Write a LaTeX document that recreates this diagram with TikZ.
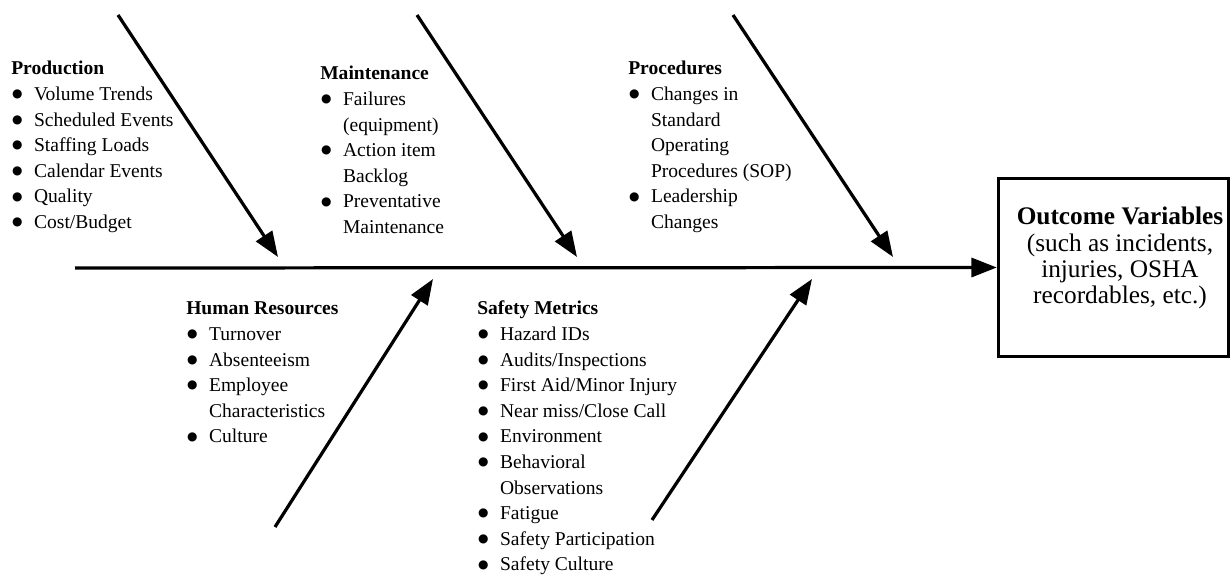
\documentclass[tikz,border=0pt]{standalone}
\usepackage{fontspec}
\setmainfont{Liberation Serif}
\newfontfamily\dotfont{DejaVu Sans}
\usetikzlibrary{arrows.meta}
\newcommand{\itm}{\makebox[0.57cm][l]{\hspace{0.02cm}\raisebox{2pt}{\dotfont\fontsize{8.5}{9}\selectfont ●}}}
\newcommand{\cnt}{\hspace*{0.57cm}}
\begin{document}
\begin{tikzpicture}[x=0.025cm,y=-0.025cm,
  bone/.style={line width=2.3pt,-{Triangle[length=18pt,width=13.5pt]}},
  cause/.style={anchor=base west,inner sep=0pt,font=\fontsize{13.9}{18.2}\selectfont},
  outbox/.style={draw,line width=2.4pt,minimum width=5.75cm,minimum height=4.45cm}]
\useasboundingbox (0,0) rectangle (1232,576);
\node [outbox] (out) at (1113.5,267.5) {};
\node [font=\fontsize{18}{18.6}\selectfont,align=center] (outtxt) at (1120,258)
  {\textbf{Outcome Variables}\\(such as incidents,\\injuries, OSHA\\recordables, etc.)};
\coordinate (tail) at (75,268);
\draw [bone] (tail) -- (out.west);
\coordinate (p1) at (118,15); \coordinate (p2) at (278,257);
\coordinate (m1) at (417,15); \coordinate (m2) at (577,257);
\coordinate (r1) at (733,15); \coordinate (r2) at (893,257);
\coordinate (h1) at (275,527); \coordinate (h2) at (433,279);
\coordinate (s1) at (652,520); \coordinate (s2) at (812,279);
\draw [bone] (p1) -- (p2); \draw [bone] (m1) -- (m2); \draw [bone] (r1) -- (r2);
\draw [bone] (h1) -- (h2); \draw [bone] (s1) -- (s2);
\node [cause] (prod) at (11,75) {\begin{tabular}[t]{@{}l@{}}\textbf{Production}\\
  \itm Volume Trends\\ \itm Scheduled Events\\ \itm Staffing Loads\\
  \itm Calendar Events\\ \itm Quality\\ \itm Cost/Budget\end{tabular}};
\node [cause] (maint) at (320,80) {\begin{tabular}[t]{@{}l@{}}\textbf{Maintenance}\\
  \itm Failures\\ \cnt(equipment)\\ \itm Action item\\ \cnt Backlog\\
  \itm Preventative\\ \cnt Maintenance\end{tabular}};
\node [cause] (proc) at (628,75) {\begin{tabular}[t]{@{}l@{}}\textbf{Procedures}\\
  \itm Changes in\\ \cnt Standard\\ \cnt Operating\\ \cnt Procedures (SOP)\\
  \itm Leadership\\ \cnt Changes\end{tabular}};
\node [cause] (hr) at (186,315) {\begin{tabular}[t]{@{}l@{}}\textbf{Human Resources}\\
  \itm Turnover\\ \itm Absenteeism\\ \itm Employee\\ \cnt Characteristics\\
  \itm Culture\end{tabular}};
\node [cause] (safe) at (477,315) {\begin{tabular}[t]{@{}l@{}}\textbf{Safety Metrics}\\
  \itm Hazard IDs\\ \itm Audits/Inspections\\ \itm First Aid/Minor Injury\\
  \itm Near miss/Close Call\\ \itm Environment\\ \itm Behavioral\\ \cnt Observations\\
  \itm Fatigue\\ \itm Safety Participation\\ \itm Safety Culture\end{tabular}};
\end{tikzpicture}
\end{document}
